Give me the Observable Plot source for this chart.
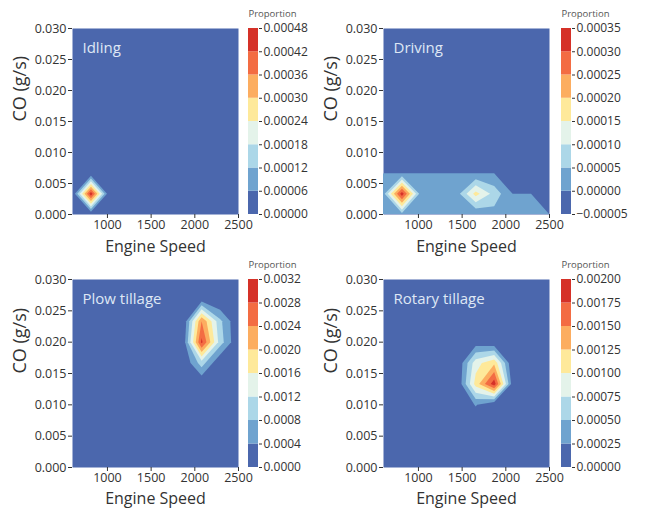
<!DOCTYPE html>
<html><head><meta charset="utf-8">
<script src="https://cdn.jsdelivr.net/npm/d3@7"></script>
<script src="https://cdn.jsdelivr.net/npm/@observablehq/plot@0.6"></script>
<style>
body{margin:0;background:#fff;}
#root{position:relative;width:645px;height:510px;overflow:hidden;}
#root svg{position:absolute;overflow:visible;}
</style></head><body><div id="root"></div>
<script>
// ---- data ----
const speedDomain = [600, 2500];
const coDomain = [0, 0.03];
const gridWidth = 10, gridHeight = 10;   // grid nodes over speedDomain x coDomain
const speedTicks = [1000, 1500, 2000, 2500];
const coTicks = [0, 0.005, 0.010, 0.015, 0.020, 0.025, 0.030];
const bandColors = ["#4b67ad", "#6fa3cf", "#acd7e8", "#e4f3ea", "#fee99a", "#fcad60", "#f36c43", "#d53128"];

const panelNames = ["Idling", "Driving", "Plow tillage", "Rotary tillage"];
const idlingLevels  = [0, 0.00006, 0.00012, 0.00018, 0.00024, 0.00030, 0.00036, 0.00042, 0.00048];
const drivingLevels = [-0.00005, 0, 0.00005, 0.00010, 0.00015, 0.00020, 0.00025, 0.00030, 0.00035];
const plowLevels    = [0, 0.0004, 0.0008, 0.0012, 0.0016, 0.0020, 0.0024, 0.0028, 0.0032];
const rotaryLevels  = [0, 0.00025, 0.00050, 0.00075, 0.00100, 0.00125, 0.00150, 0.00175, 0.00200];
const levelFormats  = [".5f", ".5f", ".4f", ".5f"];

// non-zero grid nodes: [speed index, CO index, proportion]
const idlingNodes = [[1, 1, 0.00046]];
const drivingNodes = [
  [0, 0, 0.00003], [1, 0, 0.00003], [2, 0, 0.00003], [3, 0, 0.00003], [4, 0, 0.00003],
  [6, 0, 0.00003], [7, 0, 0.00002], [8, 0, 0.00002],
  [0, 1, 0.00003], [1, 1, 0.00033], [2, 1, 0.00003], [3, 1, 0.00003], [4, 1, 0.00003],
  [5, 1, 0.00017], [6, 1, 0.00008]
];
const plowNodes = [
  [7, 6, 0.0029], [7, 7, 0.0024], [7, 5, 0.0010], [8, 6, 0.0010], [8, 7, 0.0009],
  [7, 8, 0.0003], [6, 6, 0.0001]
];
const rotaryNodes = [
  [6, 4, 0.0019], [6, 5, 0.0012], [5, 4, 0.0011], [5, 5, 0.0009], [5, 3, 0.00027],
  [7, 4, 0.0001], [5, 6, 0.0001], [6, 6, 0.00004]
];

// ---- layout ----
const panelLefts = [0, 311, 0, 311];
const panelTops = [0, 0, 251, 251];
const barLefts = [248, 561, 248, 561];
const bottoms = [41, 41, 39, 39];
const labelGaps = [37, 37, 36, 36];

const panels = [
  {name: panelNames[0], levels: idlingLevels, nodes: idlingNodes, fmt: levelFormats[0]},
  {name: panelNames[1], levels: drivingLevels, nodes: drivingNodes, fmt: levelFormats[1]},
  {name: panelNames[2], levels: plowLevels, nodes: plowNodes, fmt: levelFormats[2]},
  {name: panelNames[3], levels: rotaryLevels, nodes: rotaryNodes, fmt: levelFormats[3]}
];

const root = document.getElementById("root");
const dx = (speedDomain[1] - speedDomain[0]) / (gridWidth - 1);
const dy = (coDomain[1] - coDomain[0]) / (gridHeight - 1);
const font = {fontFamily: "'Open Sans', sans-serif", fontSize: "12px", color: "#333", background: "transparent"};

panels.forEach((p, k) => {
  const values = new Array(gridWidth * gridHeight).fill(0);
  for (const [i, j, v] of p.nodes) values[j * gridWidth + i] = v;
  const colorScale = {type: "threshold", domain: p.levels.slice(1, -1), range: bandColors};
  const eps = 1e-12;
  const main = Plot.plot({
    width: 245, height: 255,
    marginLeft: 72, marginRight: 7, marginTop: 28, marginBottom: bottoms[k],
    style: font,
    x: {domain: speedDomain},
    y: {domain: coDomain},
    color: colorScale,
    marks: [
      Plot.frame({fill: bandColors[0], stroke: "none"}),
      Plot.contour(values, {
        value: (d) => d,
        width: gridWidth, height: gridHeight,
        x1: speedDomain[0] - dx / 2, x2: speedDomain[1] + dx / 2,
        y1: coDomain[0] - dy / 2, y2: coDomain[1] + dy / 2,
        thresholds: p.levels.slice(1, -1).map(t => t + eps),
        fill: "value", stroke: "none", clip: true
      }),
      Plot.axisX({ticks: speedTicks, tickSize: 4, tickPadding: 2, label: null, tickFormat: d3.format("d"), fontSize: 12.5}),
      Plot.axisY({ticks: coTicks, tickSize: 4, tickPadding: 2, label: null, tickFormat: d3.format(".3f"), fontSize: 12.5}),
      Plot.text([p.name], {frameAnchor: "top-left", lineAnchor: "top", textAnchor: "start", dx: 10, dy: 14, fontSize: 15, fill: "#dfe7f5"}),
      Plot.text(["Engine Speed"], {frameAnchor: "bottom", lineAnchor: "bottom", dy: labelGaps[k], fontSize: 16, fill: "#333"}),
      Plot.text(["CO (g/s)"], {frameAnchor: "left", rotate: -90, dx: -52, fontSize: 18, fill: "#333"})
    ]
  });
  main.style.left = panelLefts[k] + "px";
  main.style.top = panelTops[k] + "px";
  root.appendChild(main);

  const bands = p.levels.slice(0, -1).map((lo, i) => ({lo, hi: p.levels[i + 1]}));
  const bar = Plot.plot({
    width: 80, height: 255,
    marginLeft: 0, marginRight: 70, marginTop: 28, marginBottom: bottoms[k],
    style: font,
    x: {domain: [0, 1], axis: null},
    y: {domain: [p.levels[0], p.levels[p.levels.length - 1]], axis: null},
    color: colorScale,
    marks: [
      Plot.rect(bands, {x1: 0, x2: 1, y1: "lo", y2: "hi", fill: "lo"}),
      Plot.axisY({anchor: "right", ticks: p.levels, tickFormat: d3.format(p.fmt), tickSize: 3, tickPadding: 2, label: null, fontSize: 12}),
      Plot.text(["Proportion"], {frameAnchor: "top-left", textAnchor: "start", dy: -18, fontSize: 9.5, fill: "#555"})
    ]
  });
  bar.style.left = barLefts[k] + "px";
  bar.style.top = panelTops[k] + "px";
  root.appendChild(bar);
});
</script></body></html>
